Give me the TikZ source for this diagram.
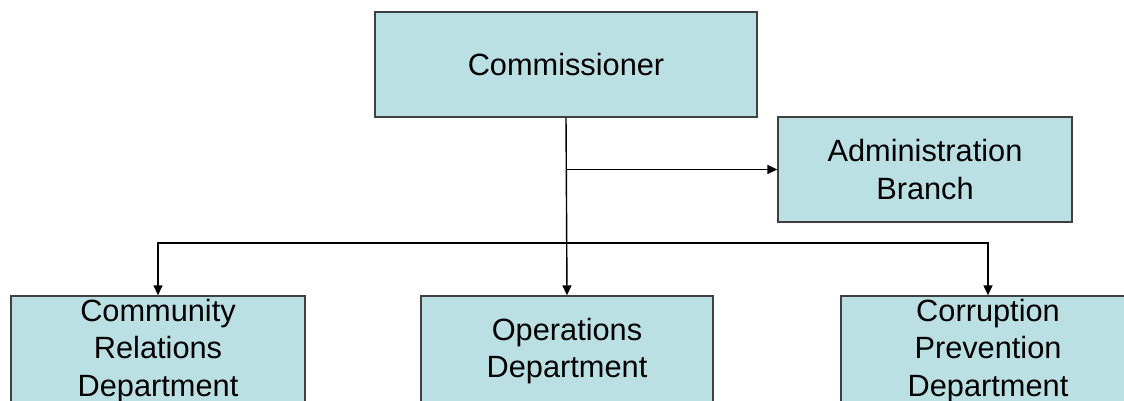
\documentclass[tikz,border=0pt]{standalone}
\usepackage{fontspec}
\setmainfont{Liberation Sans}
\usetikzlibrary{positioning,arrows.meta}

\definecolor{boxfill}{HTML}{BBE0E3}
\definecolor{boxline}{HTML}{404040}

\begin{document}
\begin{tikzpicture}[x=0.02cm, y=-0.02cm,
    unit/.style={draw=boxline, fill=boxfill, line width=0.8pt, inner sep=0pt,
      minimum height=2.1cm, align=center, font=\fontsize{17.5}{21.5}\selectfont},
    link/.style={line width=0.8pt, -{Triangle[length=2mm, width=1.8mm]}}]
  \useasboundingbox (0,0) rectangle (1124,401);
  \node[unit, minimum width=7.64cm] (comm) at (566,64.5) {Commissioner};
  \node[unit, minimum width=5.88cm] (admin) at (925,169.5) {Administration\\Branch};
  % bottom row runs off the page edge
  \node[unit, minimum width=5.88cm, minimum height=2.2cm] (crd) at (158,351) {Community\\Relations\\Department};
  \node[unit, minimum width=5.84cm, minimum height=2.2cm] (ops) at (567,351) {Operations\\Department};
  \node[unit, minimum width=5.88cm, minimum height=2.2cm] (cpd) at (988,351) {Corruption\\Prevention\\Department};
  \coordinate (bus) at (comm.south |- 0,243);
  \draw[link] (comm.south) -- (ops.north);
  \draw[link] (comm.south |- admin.west) -- (admin.west);
  \draw[link] (bus) -| (crd.north);
  \draw[link] (bus) -| (cpd.north);
\end{tikzpicture}
\end{document}
